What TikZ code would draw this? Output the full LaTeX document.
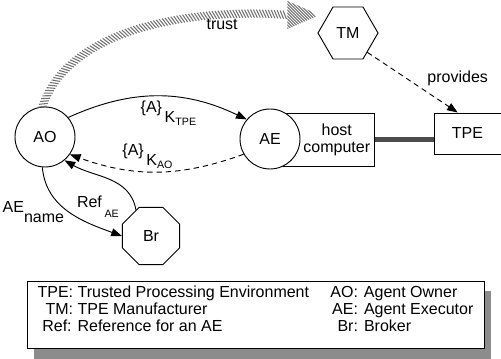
\documentclass[tikz,border=0pt]{standalone}
\usepackage{fontspec}
\setmainfont{Liberation Sans}
\usetikzlibrary{arrows.meta,shapes.geometric,shadows,decorations.markings,calc}
\newcommand{\dn}[1]{\raisebox{-7.5pt}{#1}}
\newcommand{\smalltag}[1]{{\fontsize{8}{9.6}\selectfont #1}}
\newcommand{\subk}[1]{\raisebox{-2pt}{\smalltag{#1}}}
\newcommand{\keyed}[1]{\{A\}\,\dn{K\subk{#1}}}
\tikzset{
    every node/.style={font=\fontsize{12}{12.75}\selectfont},
    agent/.style={draw, circle, fill=white, minimum size=45pt, inner sep=0pt},
    maker/.style={draw, regular polygon, regular polygon sides=6, minimum size=45pt, inner sep=0pt},
    broker/.style={draw, regular polygon, regular polygon sides=8, minimum size=46.5pt, inner sep=0pt},
    box/.style={draw, rectangle},
    msg/.style={-{Triangle[length=8pt,width=6pt]}},
    reply/.style={msg, dash pattern=on 4pt off 3pt},
    link/.style={line width=4pt, black!70},
    hatch/.style={black!55, line width=0.8pt},
    trustband/.style={
        decoration={markings,
            mark=between positions 0 and 1 step 2.2pt with {\draw[hatch] (1.5pt,-3pt) -- (-1.5pt,3pt);}},
        decorate
    }
}

\begin{document}
\begin{tikzpicture}[x=0.75pt, y=-0.75pt, line width=0.7pt]
    \useasboundingbox (0,0) rectangle (501,359);

    % actors
    \node[box, minimum width=78.75pt, minimum height=39.75pt, anchor=east,
          label={[align=center, anchor=east]east:host\\computer}] (host) at (375,139.5) {};
    \node[agent] (AE) at (270,139) {AE};
    \node[agent] (AO) at (45,137) {AO};
    \node[maker] (TM) at (348,33) {TM};
    \node[broker] (Br) at (151,236) {Br};
    \node[box, minimum width=50.25pt, minimum height=30.75pt] (TPE) at (467.5,133.5) {TPE};

    % trust
    \coordinate (trusttip) at ($(TM.west)+(2,-18)$);
    \coordinate (trustbase) at ($(trusttip)+(-32,0)$);
    \path[trustband] (AO.95) .. controls (70,25) and (200,8) .. node[pos=0.77, below] {trust} (trustbase);
    \begin{scope}
        \clip (trusttip) -- ($(trustbase)+(0,-14)$) -- ($(trustbase)+(0,14)$) -- cycle;
        \foreach \i in {-48,-45,...,6}
            \draw[hatch] ($(trustbase)+(\i,-20)$) -- ++(40,40);
    \end{scope}

    % messages
    \draw[msg] (AO.40) to[bend left=25] node[midway, below, xshift=8pt] {\keyed{TPE}} (AE.140);
    \draw[reply] (AE.210) to[bend left=20] node[midway, above=-1pt, xshift=-7pt] {\keyed{AO}} (AO.-35);
    \draw[msg] (AO.265) to[out=-85, in=160] node[midway, left] {AE\dn{name}} (Br.west);
    \draw[msg] (Br.120) to[out=100, in=-30] node[midway, below left=-2pt, xshift=9pt, yshift=-11pt] {Ref\,\dn{\smalltag{AE}}} (AO.-50);
    \draw[reply] (TM.-45) -- node[midway, anchor=west, xshift=7.5pt, yshift=3pt] {provides} (TPE.115);
    \draw[link] (host.east) -- (host.east -| TPE.west);

    % legend
    \node[box, fill=white, minimum width=342.75pt, minimum height=48pt,
          drop shadow={shadow xshift=5.25pt, shadow yshift=-7.5pt, fill=black!45, opacity=1}] (legend) at (255.5,315)
        {\begin{tabular}{@{}r@{ }l@{\hspace{16pt}}r@{\hspace{4.5pt}}l@{}}
            TPE: & Trusted Processing Environment & AO: & Agent Owner\\
            TM: & TPE Manufacturer & AE: & Agent Executor\\
            Ref: & Reference for an AE & Br: & Broker\\[6pt]
        \end{tabular}};
\end{tikzpicture}
\end{document}
